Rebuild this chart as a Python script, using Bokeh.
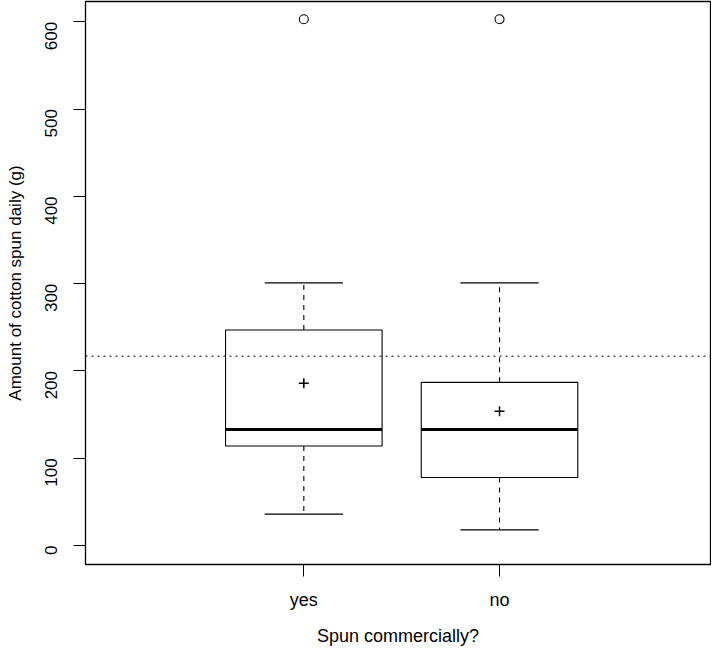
import numpy as np
from bokeh.plotting import figure
from bokeh.models import FixedTicker, Span, Range1d
from bokeh.embed import file_html
from bokeh.resources import INLINE

# ---- data ----
categories = ["yes", "no"]
positions = [1, 2]
lower_whisker = [36, 18]
q1 = [114, 78]
median = [133, 133]
q3 = [247, 187]
upper_whisker = [301, 301]
means = [186, 154]
outlier_x = [1, 2]
outlier_y = [603, 603]
reference_line = 217
y_ticks = [0, 100, 200, 300, 400, 500, 600]

box_width = 0.8
cap_width = 0.4
FONT = "Liberation Sans"

p = figure(width=711, height=648, output_backend="svg", toolbar_location=None,
           x_range=Range1d(-0.1155, 3.078), y_range=Range1d(-21.7, 623.3),
           min_border_left=85, min_border_right=1, min_border_top=1,
           min_border_bottom=82)
p.grid.visible = False
p.outline_line_color = "black"
p.outline_line_width = 1.3
p.background_fill_color = "white"
p.border_fill_color = "white"

x = np.array(positions, dtype=float)
half_b = box_width / 2
half_c = cap_width / 2

# whiskers (dashed)
p.segment(x0=x, y0=q3, x1=x, y1=upper_whisker, line_color="black",
          line_width=1.1, line_dash="5 5")
p.segment(x0=x, y0=q1, x1=x, y1=lower_whisker, line_color="black",
          line_width=1.1, line_dash="5 5")
# caps
p.segment(x0=x - half_c, y0=upper_whisker, x1=x + half_c, y1=upper_whisker,
          line_color="black", line_width=1.1)
p.segment(x0=x - half_c, y0=lower_whisker, x1=x + half_c, y1=lower_whisker,
          line_color="black", line_width=1.1)
# boxes
p.vbar(x=x, width=box_width, bottom=q1, top=q3, fill_color="white",
       line_color="black", line_width=1.1)
# medians
p.segment(x0=x - half_b, y0=median, x1=x + half_b, y1=median,
          line_color="black", line_width=3)
# means
p.scatter(x=x, y=means, marker="cross", size=10, line_color="black", line_width=1.5)
# outliers
p.scatter(x=outlier_x, y=outlier_y, marker="circle", size=9, fill_color=None,
          line_color="black", line_width=1.1)
# reference line
p.add_layout(Span(location=reference_line, dimension="width", line_color="black",
                  line_width=1, line_dash="2 4"))

# axes
p.xaxis.ticker = FixedTicker(ticks=positions)
p.xaxis.major_label_overrides = {pos: c for pos, c in zip(positions, categories)}
p.yaxis.ticker = FixedTicker(ticks=y_ticks)
p.yaxis.major_label_orientation = np.pi / 2
for ax in (p.xaxis, p.yaxis):
    ax.axis_line_color = None
    ax.minor_tick_line_color = None
    ax.major_tick_in = 0
    ax.major_tick_out = 12
    ax.major_tick_line_color = "black"
    ax.major_label_text_font = FONT
    ax.major_label_text_color = "black"
    ax.axis_label_text_font = FONT
    ax.axis_label_text_font_style = "normal"
    ax.axis_label_text_color = "black"
p.xaxis.major_label_text_font_size = "18px"
p.xaxis.axis_label_text_font_size = "18px"
p.yaxis.major_label_text_font_size = "17px"
p.yaxis.axis_label_text_font_size = "17px"
p.xaxis.axis_label = "Spun commercially?"
p.yaxis.axis_label = "Amount of cotton spun daily (g)"
p.xaxis.major_label_standoff = 13
p.xaxis.axis_label_standoff = 13
p.yaxis.major_label_standoff = 22
p.yaxis.axis_label_standoff = 12

open("out.html", "w").write(file_html(p, INLINE))
